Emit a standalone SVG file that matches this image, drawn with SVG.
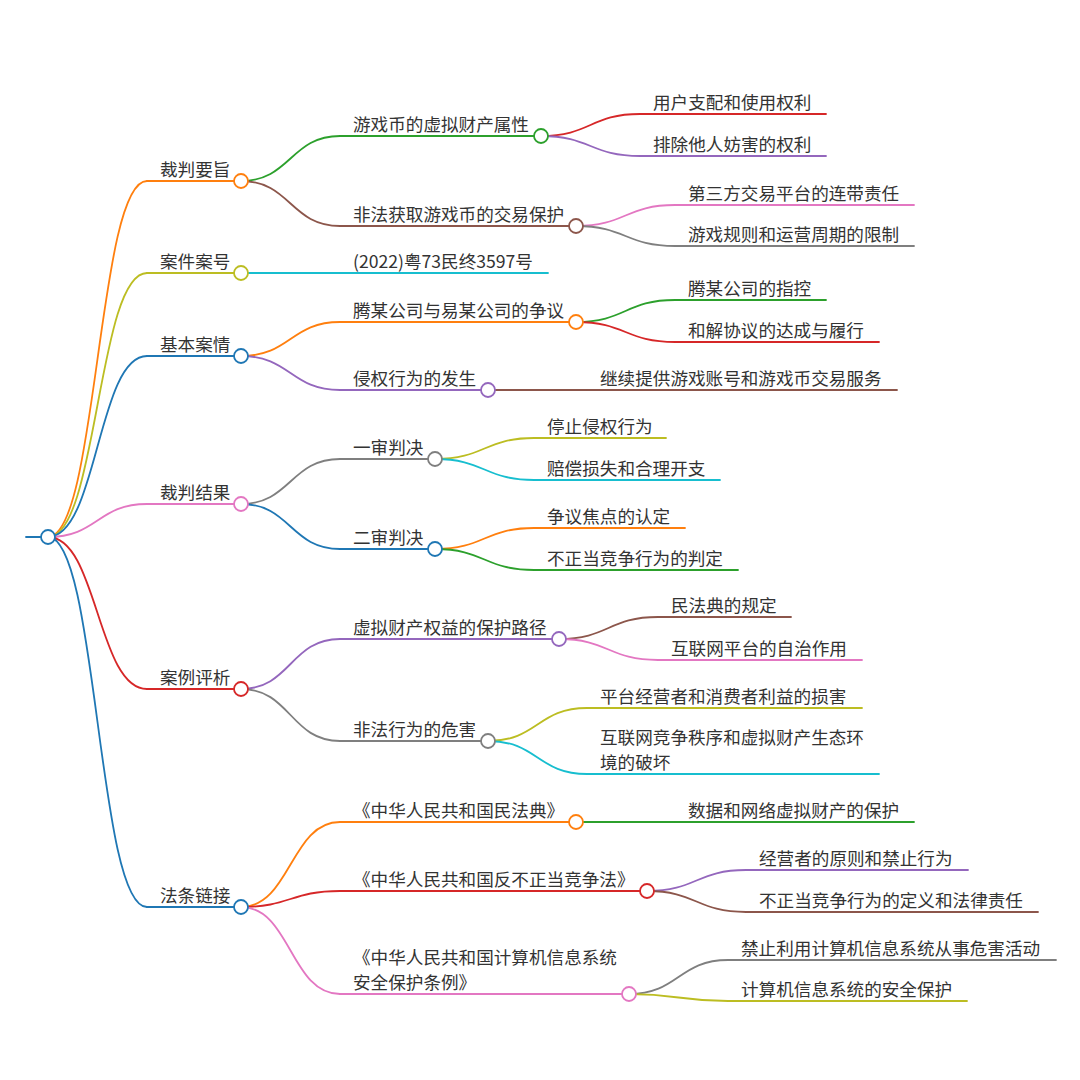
<svg xmlns="http://www.w3.org/2000/svg" width="1080" height="1080" viewBox="0 0 1080 1080">
<style>
text{font-family:"Noto Sans CJK SC","Noto Sans",sans-serif;font-size:17.6px;fill:#333}
path,line{fill:none;stroke-width:1.8;stroke-linecap:round}
circle{fill:#fff;stroke-width:1.8}
.blue{stroke:#1f77b4}.orange{stroke:#ff7f0e}.green{stroke:#2ca02c}.red{stroke:#d62728}.purple{stroke:#9467bd}
.brown{stroke:#8c564b}.pink{stroke:#e377c2}.gray{stroke:#7f7f7f}.olive{stroke:#bcbd22}.cyan{stroke:#17becf}
</style>
<rect width="1080" height="1080" fill="#fff"/>
<g id="connectors">
<line class="blue" x1="26" y1="537" x2="48" y2="537"/>
<path class="orange" d="M48,537 C97.5,537 97.5,181 147,181"/>
<path class="olive" d="M48,537 C97.5,537 97.5,273 147,273"/>
<path class="blue" d="M48,537 C97.5,537 97.5,356 147,356"/>
<path class="pink" d="M48,537 C97.5,537 97.5,504 147,504"/>
<path class="red" d="M48,537 C97.5,537 97.5,689 147,689"/>
<path class="blue" d="M48,537 C97.5,537 97.5,907 147,907"/>
<path class="green" d="M241,181 C290.5,181 290.5,136 340,136"/>
<path class="brown" d="M241,181 C290.5,181 290.5,226 340,226"/>
<path class="cyan" d="M241,273 L340,273"/>
<path class="orange" d="M241,356 C290.5,356 290.5,322 340,322"/>
<path class="purple" d="M241,356 C290.5,356 290.5,390 340,390"/>
<path class="gray" d="M241,504 C290.5,504 290.5,459 340,459"/>
<path class="blue" d="M241,504 C290.5,504 290.5,549 340,549"/>
<path class="purple" d="M241,689 C290.5,689 290.5,639 340,639"/>
<path class="gray" d="M241,689 C290.5,689 290.5,741 340,741"/>
<path class="orange" d="M241,907 C290.5,907 290.5,822 340,822"/>
<path class="red" d="M241,907 C290.5,907 290.5,891 340,891"/>
<path class="pink" d="M241,907 C290.5,907 290.5,994 340,994"/>
<path class="red" d="M541,136 C590.5,136 590.5,114 640,114"/>
<path class="purple" d="M541,136 C590.5,136 590.5,156 640,156"/>
<path class="pink" d="M576,226 C625.5,226 625.5,205 675,205"/>
<path class="gray" d="M576,226 C625.5,226 625.5,246 675,246"/>
<path class="green" d="M576,322 C625.5,322 625.5,300 675,300"/>
<path class="red" d="M576,322 C625.5,322 625.5,342 675,342"/>
<path class="brown" d="M488,390 L587,390"/>
<path class="olive" d="M435,459 C484.5,459 484.5,438 534,438"/>
<path class="cyan" d="M435,459 C484.5,459 484.5,480 534,480"/>
<path class="orange" d="M435,549 C484.5,549 484.5,528 534,528"/>
<path class="green" d="M435,549 C484.5,549 484.5,570 534,570"/>
<path class="brown" d="M559,639 C608.5,639 608.5,617 658,617"/>
<path class="pink" d="M559,639 C608.5,639 608.5,660 658,660"/>
<path class="olive" d="M488,741 C537.5,741 537.5,708 587,708"/>
<path class="cyan" d="M488,741 C537.5,741 537.5,774 587,774"/>
<path class="green" d="M576,822 L675,822"/>
<path class="purple" d="M647,891 C696.5,891 696.5,870 746,870"/>
<path class="brown" d="M647,891 C696.5,891 696.5,912 746,912"/>
<path class="gray" d="M629,994 C678.5,994 678.5,960 728,960"/>
<path class="olive" d="M629,994 C678.5,994 678.5,1001 728,1001"/>
</g>
<g id="root"><circle class="blue" cx="48" cy="537" r="7"/></g>
<g id="n-caipanyaozhi"><line class="orange" x1="147" y1="181" x2="241" y2="181"/><circle class="orange" cx="241" cy="181" r="7"/><text x="160" y="176">裁判要旨</text></g>
<g id="n-anjiananhao"><line class="olive" x1="147" y1="273" x2="241" y2="273"/><circle class="olive" cx="241" cy="273" r="7"/><text x="160" y="268">案件案号</text></g>
<g id="n-jibenanqing"><line class="blue" x1="147" y1="356" x2="241" y2="356"/><circle class="blue" cx="241" cy="356" r="7"/><text x="160" y="351">基本案情</text></g>
<g id="n-caipanjieguo"><line class="pink" x1="147" y1="504" x2="241" y2="504"/><circle class="pink" cx="241" cy="504" r="7"/><text x="160" y="499">裁判结果</text></g>
<g id="n-anlipingxi"><line class="red" x1="147" y1="689" x2="241" y2="689"/><circle class="red" cx="241" cy="689" r="7"/><text x="160" y="684">案例评析</text></g>
<g id="n-fatiaolianjie"><line class="blue" x1="147" y1="907" x2="241" y2="907"/><circle class="blue" cx="241" cy="907" r="7"/><text x="160" y="902">法条链接</text></g>

<g id="n-a1"><line class="green" x1="340" y1="136" x2="541" y2="136"/><circle class="green" cx="541" cy="136" r="7"/><text x="353" y="131">游戏币的虚拟财产属性</text></g>
<g id="n-a2"><line class="brown" x1="340" y1="226" x2="576" y2="226"/><circle class="brown" cx="576" cy="226" r="7"/><text x="353" y="221">非法获取游戏币的交易保护</text></g>
<g id="n-b1"><line class="cyan" x1="340" y1="273" x2="548" y2="273"/><text x="353" y="268">(2022)粤73民终3597号</text></g>
<g id="n-c1"><line class="orange" x1="340" y1="322" x2="576" y2="322"/><circle class="orange" cx="576" cy="322" r="7"/><text x="353" y="317">腾某公司与易某公司的争议</text></g>
<g id="n-c2"><line class="purple" x1="340" y1="390" x2="488" y2="390"/><circle class="purple" cx="488" cy="390" r="7"/><text x="353" y="385">侵权行为的发生</text></g>
<g id="n-d1"><line class="gray" x1="340" y1="459" x2="435" y2="459"/><circle class="gray" cx="435" cy="459" r="7"/><text x="353" y="454">一审判决</text></g>
<g id="n-d2"><line class="blue" x1="340" y1="549" x2="435" y2="549"/><circle class="blue" cx="435" cy="549" r="7"/><text x="353" y="544">二审判决</text></g>
<g id="n-e1"><line class="purple" x1="340" y1="639" x2="559" y2="639"/><circle class="purple" cx="559" cy="639" r="7"/><text x="353" y="634">虚拟财产权益的保护路径</text></g>
<g id="n-e2"><line class="gray" x1="340" y1="741" x2="488" y2="741"/><circle class="gray" cx="488" cy="741" r="7"/><text x="353" y="736">非法行为的危害</text></g>
<g id="n-f1"><line class="orange" x1="340" y1="822" x2="576" y2="822"/><circle class="orange" cx="576" cy="822" r="7"/><text x="353" y="817">《中华人民共和国民法典》</text></g>
<g id="n-f2"><line class="red" x1="340" y1="891" x2="647" y2="891"/><circle class="red" cx="647" cy="891" r="7"/><text x="353" y="886">《中华人民共和国反不正当竞争法》</text></g>
<g id="n-f3"><line class="pink" x1="340" y1="994" x2="629" y2="994"/><circle class="pink" cx="629" cy="994" r="7"/><text x="353" y="964">《中华人民共和国计算机信息系统</text><text x="353" y="989">安全保护条例》</text></g>

<g id="n-a1a"><line class="red" x1="640" y1="114" x2="826" y2="114"/><text x="653" y="109">用户支配和使用权利</text></g>
<g id="n-a1b"><line class="purple" x1="640" y1="156" x2="826" y2="156"/><text x="653" y="151">排除他人妨害的权利</text></g>
<g id="n-a2a"><line class="pink" x1="675" y1="205" x2="914" y2="205"/><text x="688" y="200">第三方交易平台的连带责任</text></g>
<g id="n-a2b"><line class="gray" x1="675" y1="246" x2="914" y2="246"/><text x="688" y="241">游戏规则和运营周期的限制</text></g>
<g id="n-c1a"><line class="green" x1="675" y1="300" x2="826" y2="300"/><text x="688" y="295">腾某公司的指控</text></g>
<g id="n-c1b"><line class="red" x1="675" y1="342" x2="879" y2="342"/><text x="688" y="337">和解协议的达成与履行</text></g>
<g id="n-c2a"><line class="brown" x1="587" y1="390" x2="897" y2="390"/><text x="600" y="385">继续提供游戏账号和游戏币交易服务</text></g>
<g id="n-d1a"><line class="olive" x1="534" y1="438" x2="666" y2="438"/><text x="547" y="433">停止侵权行为</text></g>
<g id="n-d1b"><line class="cyan" x1="534" y1="480" x2="720" y2="480"/><text x="547" y="475">赔偿损失和合理开支</text></g>
<g id="n-d2a"><line class="orange" x1="534" y1="528" x2="685" y2="528"/><text x="547" y="523">争议焦点的认定</text></g>
<g id="n-d2b"><line class="green" x1="534" y1="570" x2="738" y2="570"/><text x="547" y="565">不正当竞争行为的判定</text></g>
<g id="n-e1a"><line class="brown" x1="658" y1="617" x2="791" y2="617"/><text x="671" y="612">民法典的规定</text></g>
<g id="n-e1b"><line class="pink" x1="658" y1="660" x2="862" y2="660"/><text x="671" y="655">互联网平台的自治作用</text></g>
<g id="n-e2a"><line class="olive" x1="587" y1="708" x2="862" y2="708"/><text x="600" y="703">平台经营者和消费者利益的损害</text></g>
<g id="n-e2b"><line class="cyan" x1="587" y1="774" x2="879" y2="774"/><text x="600" y="744">互联网竞争秩序和虚拟财产生态环</text><text x="600" y="769">境的破坏</text></g>
<g id="n-f1a"><line class="green" x1="675" y1="822" x2="914" y2="822"/><text x="688" y="817">数据和网络虚拟财产的保护</text></g>
<g id="n-f2a"><line class="purple" x1="746" y1="870" x2="968" y2="870"/><text x="759" y="865">经营者的原则和禁止行为</text></g>
<g id="n-f2b"><line class="brown" x1="746" y1="912" x2="1038" y2="912"/><text x="759" y="907">不正当竞争行为的定义和法律责任</text></g>
<g id="n-f3a"><line class="gray" x1="728" y1="960" x2="1056" y2="960"/><text x="741" y="955">禁止利用计算机信息系统从事危害活动</text></g>
<g id="n-f3b"><line class="olive" x1="728" y1="1001" x2="967" y2="1001"/><text x="741" y="996">计算机信息系统的安全保护</text></g>
</svg>
